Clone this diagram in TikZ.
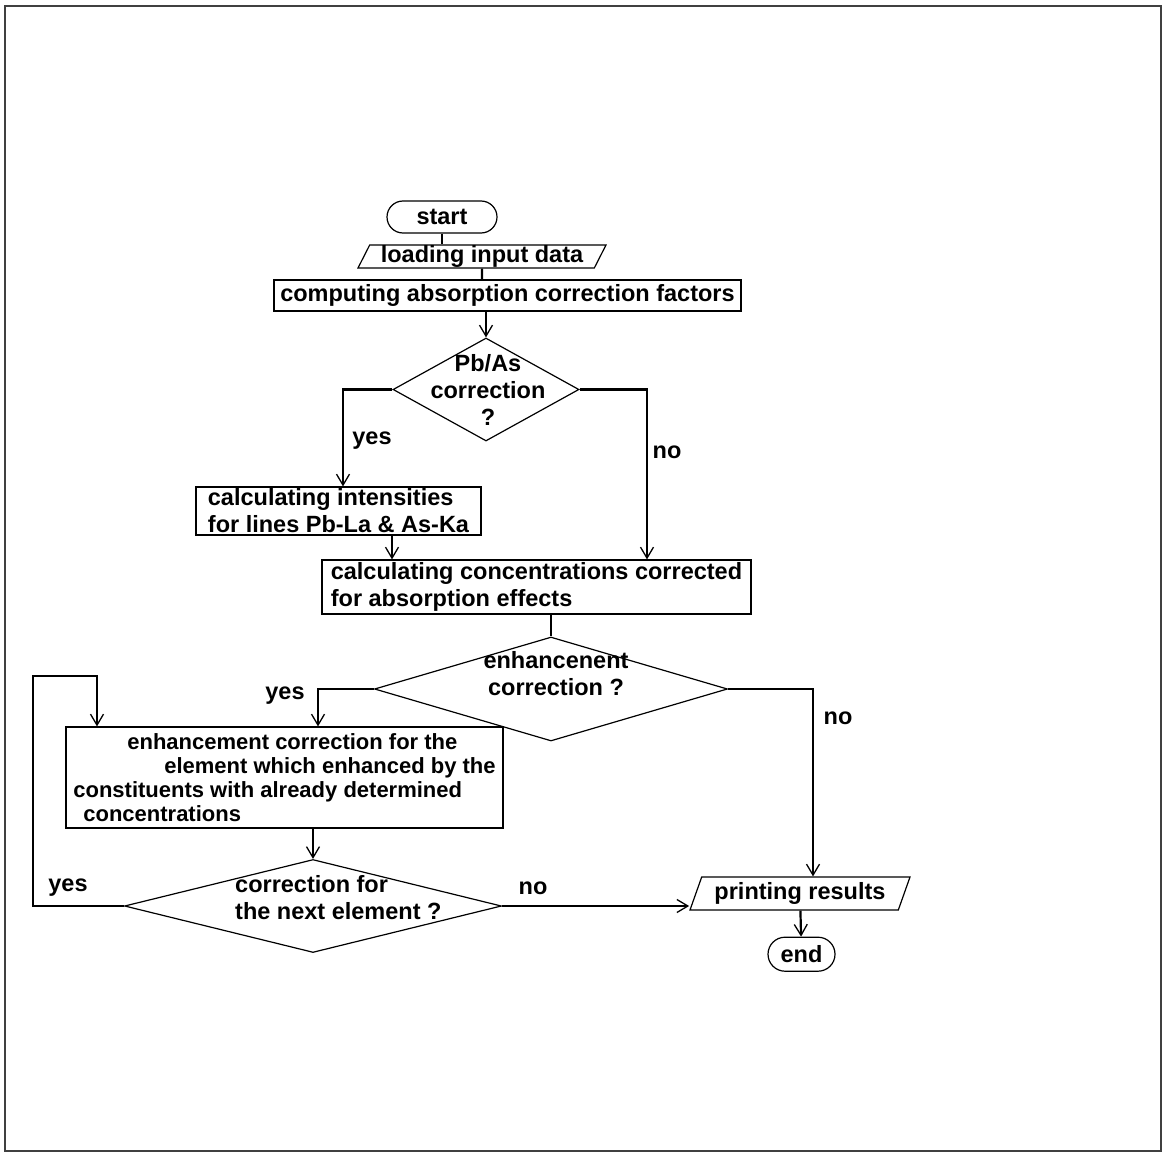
\documentclass[tikz,border=0pt]{standalone}
\usepackage{fontspec}
\setmainfont{Liberation Sans}
\usetikzlibrary{arrows.meta,positioning,shapes.geometric}
\newcommand{\chartfont}{\fontsize{23.5}{27}\selectfont\bfseries}
\newcommand{\boxfont}{\fontsize{22}{24}\selectfont\bfseries}

\begin{document}
\begin{tikzpicture}[x=1pt, y=-1pt,
  terminal/.style={draw, line width=1.2pt, rounded corners=16pt, inner sep=0pt, font=\chartfont},
  iobox/.style={draw, line width=1.2pt, trapezium, trapezium left angle=62, trapezium right angle=118, trapezium stretches body, inner xsep=2pt, inner ysep=0pt, font=\chartfont},
  procbox/.style={draw, line width=1.2pt, inner xsep=4pt, inner ysep=0pt, align=left, font=\chartfont},
  decision/.style={draw, line width=1.2pt, diamond, inner sep=0pt},
  qtext/.style={align=center, inner sep=0pt, font=\chartfont},
  branch/.style={inner sep=0pt, font=\chartfont},
  flow/.style={line width=2.2pt},
  arr/.style={flow, -{Straight Barb[length=11pt, width=13pt, line width=1.3pt]}}
]
  \useasboundingbox (0,0) rectangle (1165,1153);
  \draw[line width=2.5pt, black!75] (5,6) rectangle (1161,1151);

  \node[terminal, minimum width=110pt, minimum height=32pt] (start) at (442,217) {start};
  \node[iobox, minimum width=248pt, minimum height=23pt] (load) at (482,256.5) {loading input data};
  \node[procbox, minimum width=467pt, minimum height=31pt] (comp) at (507.5,295.5) {computing absorption correction factors};
  \node[decision, minimum width=186pt, minimum height=103pt] (pbas) at (486,389.5) {};
  \node[qtext] (pbastext) at ([xshift=2pt]pbas.center) {Pb/As\\correction\\?};

  \node[procbox, minimum width=285pt, minimum height=48pt] (ints) at (338.5,511) {calculating intensities\\for lines Pb-La \& As-Ka};
  \node[procbox, minimum width=429pt, minimum height=54pt] (conc) at (536.5,587) {calculating concentrations corrected\\for absorption effects};
  \node[decision, minimum width=353pt, minimum height=104pt] (enhq) at (551,689) {};
  \node[qtext] (enhqtext) at ([xshift=5pt, yshift=15.5pt]enhq.center) {enhancenent\\correction ?};

  \node[procbox, font=\boxfont, inner xsep=2pt, minimum width=437pt, minimum height=101pt] (enh) at (284.5,777.5)
    {\hspace*{54pt}enhancement correction for the\\\hspace*{91pt}element which enhanced by the\\constituents with already determined\\\hspace*{10pt}concentrations};
  \node[decision, minimum width=377pt, minimum height=93pt] (nextq) at (313,906) {};
  \node[qtext, anchor=west, align=left] (nextqtext) at ([xshift=-78pt, yshift=8pt]nextq.center) {correction for\\the next element ?};

  \node[iobox, minimum width=220pt, minimum height=33pt] (print) at (800,893.5) {printing results};
  \node[terminal, minimum width=67pt, minimum height=34pt, rounded corners=17pt, below=26pt of print, xshift=1.5pt] (end) {end};

  % branch labels
  \node[branch] (yes1) at (372,441) {yes};
  \node[branch] (no1) at (667,452) {no};
  \node[branch] (yes2) at (285,696) {yes};
  \node[branch] (no2) at (838,718) {no};
  \node[branch] (yes3) at (68,888) {yes};
  \node[branch] (no3) at (533,888) {no};

  \coordinate (loopcorner) at (33,676);

  \draw[flow] (start) -- (start |- load.north);
  \draw[flow] (load) -- (load |- comp.north);
  \draw[arr] (pbas |- comp.south) -- (pbas);
  \draw[arr] (pbas) -| ([xshift=4.5pt]ints.north);
  \draw[arr] (pbas) -| ([xshift=110.5pt]conc.north);
  \draw[arr] ([xshift=53.5pt]ints.south) -- ([xshift=53.5pt]ints.south |- conc.north);
  \draw[flow] (enhq |- conc.south) -- (enhq);
  \draw[arr] (enhq) -| ([xshift=33.5pt]enh.north);
  \draw[arr] (enhq) -| ([xshift=13pt]print.north);
  \draw[arr] (nextq |- enh.south) -- (nextq);
  \draw[arr] (nextq) -| (loopcorner) -| ([xshift=-187.5pt]enh.north);
  \draw[arr] (nextq) -- (nextq -| print.bottom left corner);
  \draw[arr] (print) -- (end);
\end{tikzpicture}
\end{document}
